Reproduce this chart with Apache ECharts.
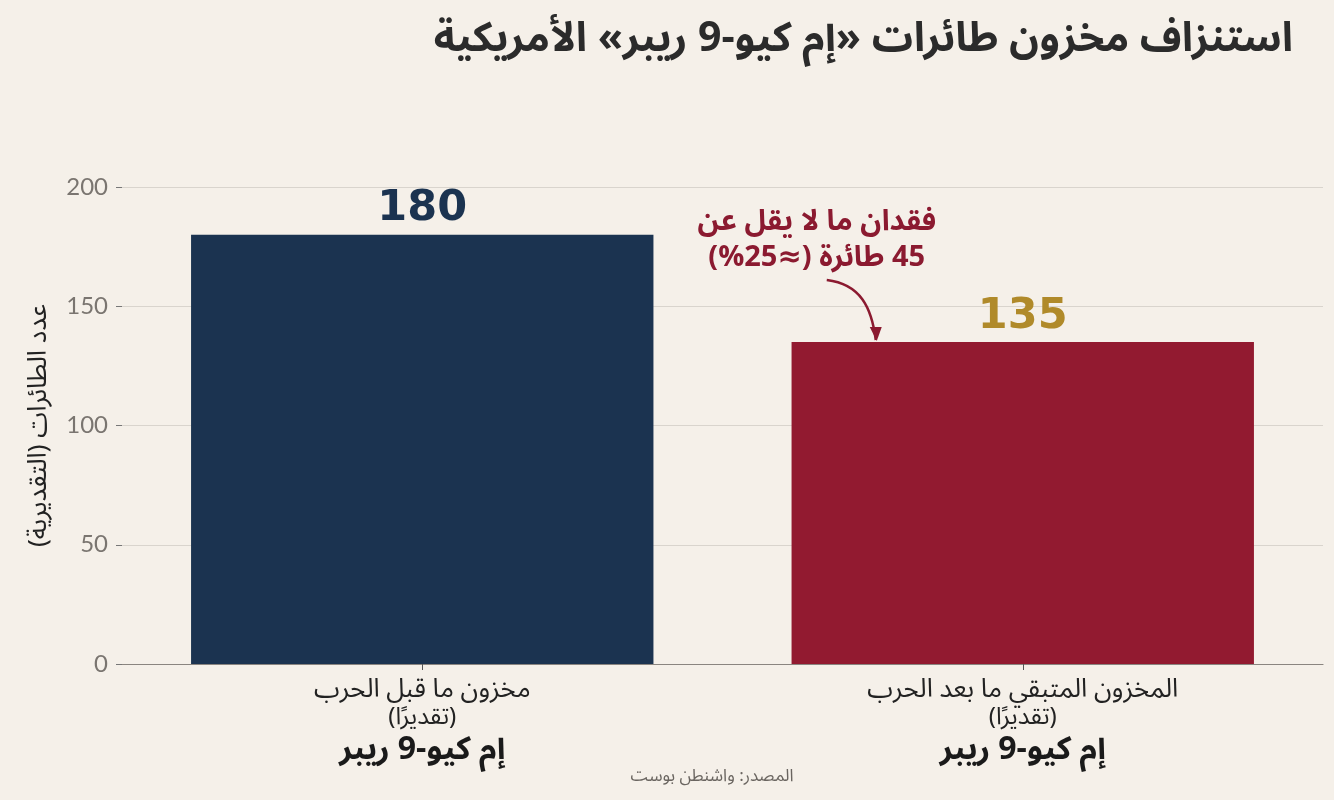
<!DOCTYPE html>
<html dir="rtl">
<head>
<meta charset="utf-8">
<script src="https://cdn.jsdelivr.net/npm/echarts@6/dist/echarts.min.js"></script>
<style>
html,body{margin:0;padding:0;background:#f5f0e9;}
#c{width:1334px;height:800px;}
</style>
</head>
<body>
<div id="c"></div>
<script>
const categories = ['مخزون ما قبل الحرب', 'المخزون المتبقي ما بعد الحرب'];
const subLabel = '(تقديرًا)';
const modelName = 'إم كيو-9 ريبر';
const values = [180, 135];
const barColors = ['#1b3350', '#921a30'];
const valueLabelColors = ['#1b3350', '#b08a2a'];
const yTicks = [0, 50, 100, 150, 200];
const titleText = 'استنزاف مخزون طائرات «إم كيو-9 ريبر» الأمريكية';
const yAxisName = 'عدد الطائرات (التقديرية)';
const sourceText = 'المصدر: واشنطن بوست';
const annotationLines = ['فقدان ما لا يقل عن', '45 طائرة (≈25\u200F%)'];

const AR = '"Noto Sans Arabic","DejaVu Sans",sans-serif';
const NUM = '"DejaVu Sans",Lato,sans-serif';

const chart = echarts.init(document.getElementById('c'), null, {renderer: 'canvas'});
chart.setOption({
  backgroundColor: '#f5f0e9',
  animation: false,
  title: {
    text: titleText,
    right: 36, top: 19,
    textStyle: {fontFamily: AR, fontSize: 41, fontWeight: 'bold', color: '#2b2b2b'}
  },
  grid: {left: 122, right: 11, top: 187, bottom: 136},
  xAxis: {
    type: 'category',
    data: categories,
    axisLine: {show: true, lineStyle: {color: '#8a8580', width: 1.2}},
    axisTick: {show: true, alignWithLabel: true, length: 6, lineStyle: {color: '#555'}},
    axisLabel: {
      margin: 15,
      interval: 0,
      formatter: function (v) {
        return '{a|' + v + '}\n{b|' + subLabel + '}\n{c|' + modelName + '}';
      },
      rich: {
        a: {fontFamily: AR, fontSize: 26, color: '#222', lineHeight: 28},
        b: {fontFamily: AR, fontSize: 24, color: '#222', lineHeight: 26},
        c: {fontFamily: AR, fontSize: 32, fontWeight: 'bold', color: '#1a1a1a', lineHeight: 42}
      }
    }
  },
  yAxis: {
    type: 'value',
    min: 0, max: 200, interval: 50,
    name: yAxisName,
    nameLocation: 'middle',
    nameGap: 67,
    nameTextStyle: {fontFamily: AR, fontSize: 26, color: '#222'},
    axisLine: {show: false},
    axisTick: {show: true, length: 6, lineStyle: {color: '#777'}},
    axisLabel: {
      fontFamily: 'Lato,sans-serif', fontSize: 24, color: '#7a7570', margin: 14,
      formatter: function (v) { return yTicks.indexOf(v) >= 0 ? String(v) : ''; }
    },
    splitLine: {show: true, lineStyle: {color: '#d9d4cd', width: 1.2}}
  },
  series: [{
    type: 'bar',
    barWidth: '77%',
    data: values.map(function (v, i) {
      return {
        value: v,
        itemStyle: {color: barColors[i]},
        label: {color: valueLabelColors[i]}
      };
    }),
    label: {
      show: true,
      position: 'top',
      distance: 4,
      fontFamily: NUM,
      fontSize: 43,
      fontWeight: 'bold'
    }
  }]
});

const p = chart.convertToPixel({xAxisIndex: 0, yAxisIndex: 0}, [1, values[1]]);
const tx = p[0] - 206;
const ty = p[1] - 98;
const ax1 = p[0] - 196, ay1 = p[1] - 62;
const ax2 = p[0] - 147, ay2 = p[1] - 2;
const ann = '#8b1a30';
chart.setOption({
  graphic: [
    {
      type: 'text',
      x: tx, y: ty,
      style: {
        text: annotationLines.join('\n'),
        fontFamily: AR, fontSize: 29, fontWeight: 'bold',
        fill: ann, align: 'center', verticalAlign: 'middle', lineHeight: 36
      }
    },
    {
      type: 'bezierCurve',
      shape: {x1: ax1, y1: ay1, cpx1: ax1 + 34, cpy1: ay1 + 4, cpx2: ax2 - 4, cpy2: ay2 - 32, x2: ax2, y2: ay2},
      style: {stroke: ann, lineWidth: 2.5, fill: null}
    },
    {
      type: 'polygon',
      shape: {points: [[ax2 - 6, ay2 - 13], [ax2 + 6, ay2 - 13], [ax2 + 1, ay2 + 1]]},
      style: {fill: ann}
    },
    {
      type: 'text',
      x: 712, y: 778,
      style: {text: sourceText, fontFamily: AR, fontSize: 17, fill: '#6a6560', align: 'center', verticalAlign: 'middle'}
    }
  ]
});
</script>
</body>
</html>
